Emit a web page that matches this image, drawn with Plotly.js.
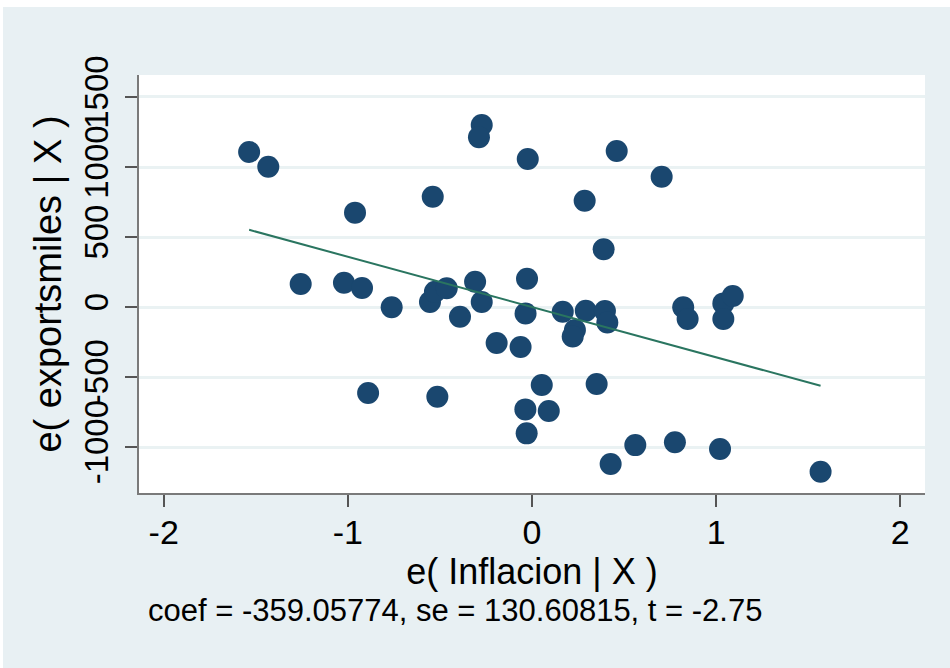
<!DOCTYPE html>
<html>
<head>
<meta charset="utf-8">
<script src="https://cdn.plot.ly/plotly-3.0.1.min.js"></script>
<style>
  html, body { margin: 0; padding: 0; background: #ffffff; }
  #chart { position: absolute; left: 3px; top: 7px; width: 947px; height: 661px; }
</style>
</head>
<body>
<div id="chart"></div>
<script>
// Residuals of Inflacion (x) and exportsmiles (y) given X
const eInflacion = [-1.536, -1.432, -0.961, -1.256, -1.021, -0.923, -0.890, -0.762,
  -0.539, -0.554, -0.527, -0.463, -0.391, -0.309, -0.273, -0.273, -0.288, -0.023,
  0.460, 0.704, 0.286, 0.389, -0.027, -0.035, 0.167, 0.292, 0.396, 0.409, 0.233,
  0.221, -0.192, -0.062, 0.053, 0.351, -0.514, -0.036, 0.091, -0.029, 0.561, 0.427,
  0.776, 1.021, 1.567, 0.821, 0.845, 1.039, 1.090, 1.039];
const eExports = [1107, 1002, 674, 164, 174, 136, -614, -2,
  788, 36, 109, 134, -69, 181, 36, 1300, 1212, 1057,
  1114, 931, 759, 412, 202, -46, -34, -26, -29, -111, -164,
  -211, -257, -286, -557, -550, -641, -731, -743, -902, -986, -1121,
  -966, -1014, -1176, -2, -86, 26, 79, -86];
const coef = -359.05774;
const se = 130.60815;
const tStat = -2.75;
const xTicks = [-2, -1, 0, 1, 2];
const yTicks = [-1000, -500, 0, 500, 1000, 1500];

const xMin = Math.min(...eInflacion), xMax = Math.max(...eInflacion);
const fitX = [xMin, xMax];
const fitY = fitX.map(v => coef * v);

const font = "Liberation Sans, Arial, sans-serif";

const traces = [
  {
    x: eInflacion, y: eExports, type: 'scatter', mode: 'markers',
    marker: { color: '#1a476f', size: 22, line: { width: 0 } },
    hoverinfo: 'x+y'
  },
  {
    x: fitX, y: fitY, type: 'scatter', mode: 'lines',
    line: { color: '#2a7560', width: 2 },
    hoverinfo: 'skip'
  }
];

const layout = {
  width: 947, height: 661,
  paper_bgcolor: '#e8f0f3',
  plot_bgcolor: '#ffffff',
  showlegend: false,
  margin: { l: 136, r: 25, t: 68, b: 175 },
  font: { family: font, color: '#000000' },
  xaxis: {
    range: [-2.134, 2.134],
    tickvals: xTicks,
    ticktext: xTicks.map(String),
    showgrid: false, zeroline: false,
    showline: true, linecolor: '#7a7a7a', linewidth: 2,
    ticks: 'outside', ticklen: 12, tickwidth: 2, tickcolor: '#555555',
    ticklabelstandoff: -4,
    tickfont: { size: 34, family: font, color: '#000' },
    automargin: true,
    title: { text: 'e( Inflacion | X )', font: { size: 36, family: font, color: '#000' }, standoff: 0 }
  },
  yaxis: {
    range: [-1328, 1657],
    tickvals: yTicks,
    ticktext: yTicks.map(String),
    tickangle: -90,
    ticklabelstandoff: 4,
    showgrid: true, gridcolor: '#eaf2f3', gridwidth: 3,
    zeroline: false,
    showline: true, linecolor: '#7a7a7a', linewidth: 2,
    ticks: 'outside', ticklen: 12, tickwidth: 2, tickcolor: '#555555',
    tickfont: { size: 33, family: font, color: '#000' },
    title: { text: 'e( exportsmiles | X )', font: { size: 38, family: font, color: '#000' }, standoff: 4 }
  },
  annotations: [
    {
      xref: 'paper', yref: 'paper', x: 0.009, y: -0.282,
      xanchor: 'left', yanchor: 'middle', showarrow: false,
      text: 'coef = ' + coef.toFixed(5) + ', se = ' + se.toFixed(5) + ', t = ' + tStat.toFixed(2),
      font: { size: 31, family: font, color: '#000' }
    }
  ]
};

Plotly.newPlot('chart', traces, layout, { displayModeBar: false, staticPlot: true });
</script>
</body>
</html>
